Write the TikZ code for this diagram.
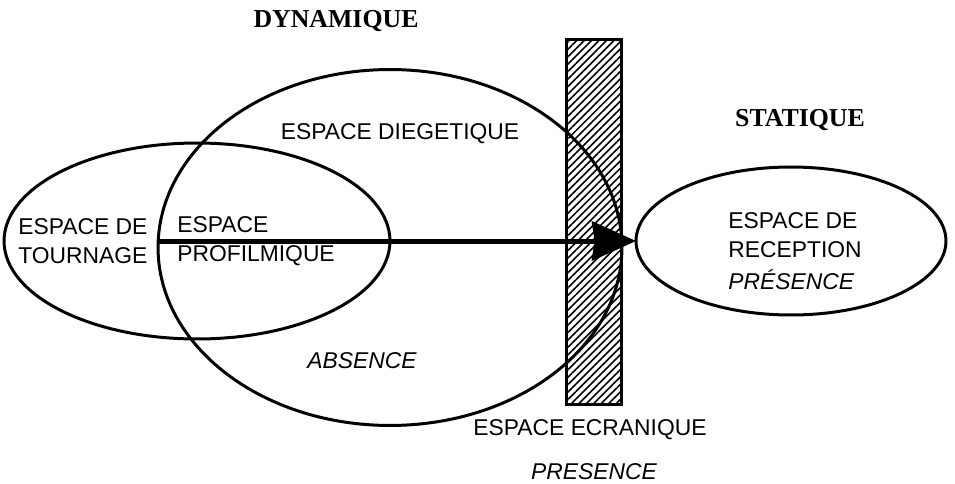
\documentclass[tikz,border=0pt]{standalone}
\usepackage{fontspec}
\setmainfont{Liberation Sans}
\newfontfamily\titlefont{Liberation Serif}
\usetikzlibrary{shapes.geometric, arrows.meta, patterns.meta}
\tikzset{
  zone/.style={
    ellipse, draw, line width=1.7pt,
    inner sep=0pt, outer sep=0pt
  },
  ecran/.style={
    rectangle, draw, line width=1.7pt, inner sep=0pt, outer sep=0pt,
    pattern={Lines[angle=45, distance=3pt, line width=0.9pt]}
  },
  txt/.style={font=\fontsize{13pt}{16.5pt}\selectfont, align=left, inner sep=0pt},
  titre/.style={font=\titlefont\bfseries\fontsize{14.7pt}{17pt}\selectfont, inner sep=0pt},
  fleche/.style={line width=0.1cm, -{Stealth[length=0.88cm, width=0.78cm, inset=0.05cm]}},
}

\begin{document}
\begin{tikzpicture}[x=0.02cm, y=-0.02cm]
  \useasboundingbox (0,0) rectangle (955,483);

  % espaces
  \node (ecran)     [ecran, minimum width=1.1cm, minimum height=7.32cm] at (593.5,222) {};
  \node (tournage)  [zone, minimum width=7.72cm, minimum height=3.92cm] at (197,241) {};
  \node (diegese)   [zone, minimum width=9.28cm, minimum height=7.12cm] at (390,247.5) {};
  \node (reception) [zone, minimum width=6.2cm, minimum height=2.96cm] at (791,241) {};

  \draw [fleche] (diegese.west |- reception.west) -- (reception.west);

  % textes
  \node (dyn)   [titre] at (336,21)  {DYNAMIQUE};
  \node (stat)  [titre] at (800,120) {STATIQUE};
  \node (tdieg) [txt]   at (400,134) {ESPACE DIEGETIQUE};
  \node (ttour) [txt, anchor=west] at (18,241)  {ESPACE DE\\TOURNAGE};
  \node (tprof) [txt, anchor=west] at (177,241) {ESPACE\\PROFILMIQUE};
  \node (tabs)  [txt]   at (362,361) {\itshape ABSENCE};
  \node (tecr)  [txt]   at (590,430) {ESPACE ECRANIQUE};
  \node (tpres) [txt]   at (594,472) {\itshape PRESENCE};
  \node (trec)  [txt, anchor=west] at (728,251) {ESPACE DE\\RECEPTION\\[2pt]\itshape PRÉSENCE};
\end{tikzpicture}
\end{document}
